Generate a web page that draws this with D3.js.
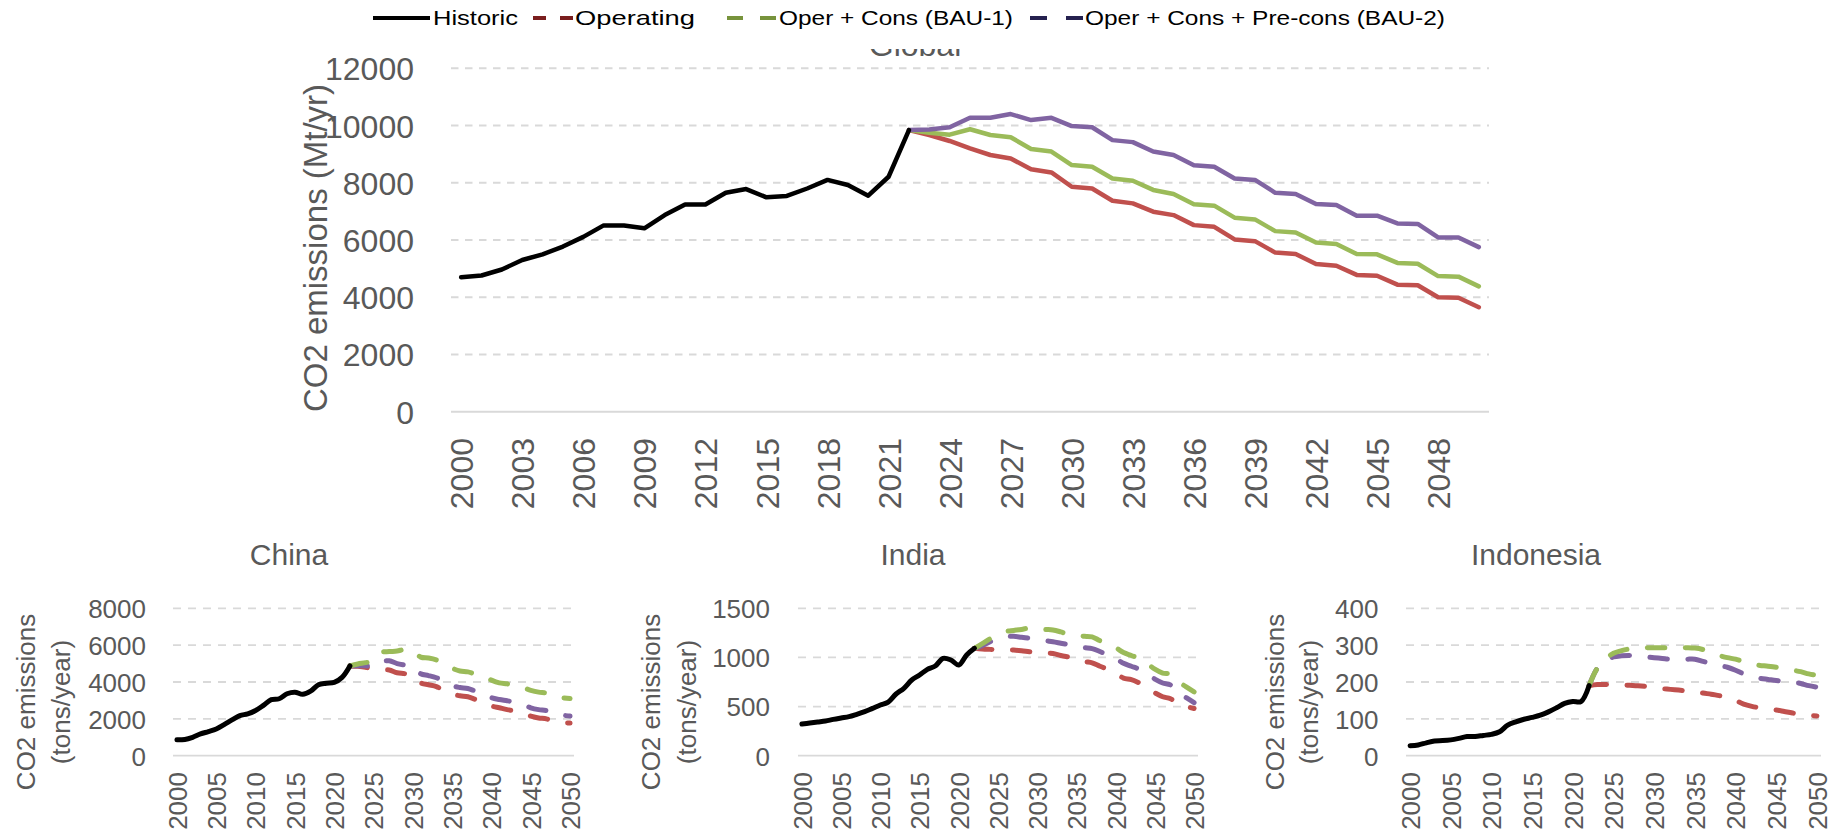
<!DOCTYPE html>
<html><head><meta charset="utf-8">
<script src="https://cdn.jsdelivr.net/npm/d3@7"></script>
<style>
body{margin:0;background:#fff;}
svg{display:block;font-family:"Liberation Sans",Arial,sans-serif;}
</style>
</head><body>
<svg id="chart" width="1835" height="837"></svg>
<script>
// ---------------- DATA ----------------
const years = [2000,2001,2002,2003,2004,2005,2006,2007,2008,2009,2010,2011,2012,2013,2014,2015,2016,2017,2018,2019,2020,2021,2022,2023,2024,2025,2026,2027,2028,2029,2030,2031,2032,2033,2034,2035,2036,2037,2038,2039,2040,2041,2042,2043,2044,2045,2046,2047,2048,2049,2050];
const histYears = [2000,2001,2002,2003,2004,2005,2006,2007,2008,2009,2010,2011,2012,2013,2014,2015,2016,2017,2018,2019,2020,2021,2022];
const projYears = [2022,2023,2024,2025,2026,2027,2028,2029,2030,2031,2032,2033,2034,2035,2036,2037,2038,2039,2040,2041,2042,2043,2044,2045,2046,2047,2048,2049,2050];

const seriesNames = ["Historic","Operating","Oper + Cons (BAU-1)","Oper + Cons + Pre-cons (BAU-2)"];

// Global (Mt/yr)
const globalHistoric = [4700,4760,4970,5300,5500,5770,6110,6510,6510,6410,6870,7240,7240,7650,7780,7490,7540,7800,8100,7920,7550,8210,9840];
const globalOperating = [9840,9670,9460,9200,8970,8850,8470,8360,7860,7800,7370,7280,6990,6870,6520,6460,6020,5960,5560,5510,5160,5100,4780,4750,4440,4420,4000,3980,3650];
const globalBAU1 = [9840,9750,9680,9870,9670,9590,9180,9090,8620,8560,8150,8070,7750,7610,7250,7200,6780,6720,6310,6260,5910,5860,5510,5500,5200,5170,4740,4720,4380];
const globalBAU2 = [9840,9860,9940,10270,10270,10400,10190,10270,9980,9940,9490,9420,9090,8970,8610,8560,8150,8100,7650,7610,7260,7220,6850,6850,6580,6560,6090,6090,5750];

// China
const chinaHistoric = [860,880,1000,1180,1310,1450,1690,1945,2180,2270,2450,2730,3040,3090,3360,3450,3330,3500,3850,3930,3980,4250,4870];
const chinaOperating = [4870,4850,4800,4700,4650,4650,4500,4450,4350,3950,3850,3750,3520,3350,3250,3200,3050,2920,2700,2600,2500,2430,2280,2150,2050,2000,1850,1800,1770];
const chinaBAU1 = [4870,4980,5050,5160,5600,5650,5680,5770,5700,5350,5300,5200,5000,4750,4600,4550,4420,4320,4100,3950,3900,3820,3700,3550,3450,3400,3250,3150,3100];
const chinaBAU2 = [4870,4880,4880,4830,5100,5150,5000,4920,4850,4450,4350,4230,4050,3800,3700,3650,3500,3370,3150,3050,2980,2900,2780,2600,2500,2450,2300,2200,2150];

// India
const indiaHistoric = [322,333,343,353,370,384,397,421,448,482,516,546,628,686,770,821,879,913,991,974,923,1025,1093];
const indiaOperating = [1093,1085,1082,1080,1078,1075,1068,1058,1050,1045,1040,1020,1005,990,960,945,910,880,840,790,775,740,690,640,600,580,525,500,480];
const indiaBAU1 = [1093,1140,1190,1230,1265,1275,1285,1300,1295,1285,1280,1260,1235,1225,1215,1210,1170,1140,1100,1050,1020,990,940,880,840,830,755,700,650];
const indiaBAU2 = [1093,1120,1160,1190,1210,1215,1205,1195,1185,1170,1160,1145,1130,1115,1100,1090,1060,1025,990,940,910,880,830,780,740,720,640,590,540];

// Indonesia
const indonesiaHistoric = [27,29,35,40,41,43,47,52,52,55,58,65,83,92,99,104,110,119,130,142,147,147,190];
const indonesiaOperating = [190,193,193,193,192,191,190,188,185,182,180,178,176,174,170,167,163,160,150,140,134,130,127,124,120,116,111,109,108];
const indonesiaBAU1 = [190,237,262,278,285,290,292,293,293,293,293,293,293,292,288,280,272,266,262,255,248,245,243,240,235,232,228,222,218];
const indonesiaBAU2 = [190,237,258,268,271,272,270,268,266,264,262,262,262,262,256,250,245,240,232,222,214,210,207,204,202,200,196,190,186];

// Ticks
const globalYTicks = [0,2000,4000,6000,8000,10000,12000];
const globalXTicks = [2000,2003,2006,2009,2012,2015,2018,2021,2024,2027,2030,2033,2036,2039,2042,2045,2048];
const chinaYTicks = [0,2000,4000,6000,8000];
const indiaYTicks = [0,500,1000,1500];
const indonesiaYTicks = [0,100,200,300,400];
const smallXTicks = [2000,2005,2010,2015,2020,2025,2030,2035,2040,2045,2050];

// ---------------- STYLE ----------------
const COL = {hist:"#000000", op:"#C0504D", bau1:"#9BBB59", bau2:"#8064A2"};
const LEG = {op:"#7A1E1E", bau1:"#77933C", bau2:"#25214F"};
const TXT = "#595959";

const svg = d3.select("#chart");

function zip(ys, vs){ return ys.map((y,i)=>({year:y, v:vs[i]})); }

function panel(p){
  const x = d3.scalePoint().domain(years).range([p.left, p.right]).padding(0.5);
  const y = d3.scaleLinear().domain([0, p.max]).range([p.bottom, p.top]);
  const g = svg.append("g");

  // gridlines
  g.selectAll("line.grid").data(p.yTicks).join("line")
    .attr("class","grid")
    .attr("x1", p.left).attr("x2", p.right)
    .attr("y1", d=>y(d)).attr("y2", d=>y(d))
    .attr("stroke", "#D9D9D9").attr("stroke-width", p.gridW)
    .attr("stroke-dasharray", d => d===0 ? null : p.gridDash);

  // y axis labels
  const ya = g.append("g").attr("transform", `translate(${p.labelRight},0)`)
    .call(d3.axisLeft(y).tickValues(p.yTicks).tickSize(0).tickPadding(0).tickFormat(d3.format("d")));
  ya.select(".domain").remove();
  ya.selectAll("text").attr("fill", TXT).attr("font-size", p.fs)
    .attr("font-family", '"Liberation Sans",Arial,sans-serif').attr("dy","0.36em");

  // x axis labels
  const xa = g.append("g").attr("transform", `translate(0,${p.xLabelTop})`)
    .call(d3.axisBottom(x).tickValues(p.xTicks).tickSize(0).tickPadding(0));
  xa.select(".domain").remove();
  xa.selectAll("text").attr("fill", TXT).attr("font-size", p.xfs)
    .attr("font-family", '"Liberation Sans",Arial,sans-serif')
    .attr("transform","rotate(-90)").attr("text-anchor","end")
    .attr("x",0).attr("y",0).attr("dy","0.36em");

  // lines
  const line = d3.line().x(d=>x(d.year)).y(d=>y(d.v)).curve(p.curve);
  const proj = [
    {vals:p.op, c:COL.op},
    {vals:p.bau1, c:COL.bau1},
    {vals:p.bau2, c:COL.bau2}
  ];
  const order = p.dashed ? [proj[0], proj[2], proj[1]] : [proj[0], proj[1], proj[2]];
  order.forEach(s=>{
    g.append("path").datum(zip(projYears, s.vals)).attr("d", line)
      .attr("fill","none").attr("stroke", s.c).attr("stroke-width", p.lw)
      .attr("stroke-linecap","round").attr("stroke-linejoin","round")
      .attr("stroke-dasharray", p.dashed ? p.projDash : null);
  });
  g.append("path").datum(zip(histYears, p.hist)).attr("d", line)
    .attr("fill","none").attr("stroke", COL.hist).attr("stroke-width", p.lw)
    .attr("stroke-linecap","round").attr("stroke-linejoin","round");

  // y title
  p.yTitle.forEach(t=>{
    svg.append("text").attr("transform", `translate(${t.x},${p.yTitleCy}) rotate(-90)`)
      .attr("text-anchor","middle").attr("fill", TXT).attr("font-size", p.yTitleFs)
      .text(t.text);
  });
  // title
  svg.append("text").attr("x", p.titleX).attr("y", p.titleY).attr("text-anchor","middle")
    .attr("fill", TXT).attr("font-size", p.titleFs).text(p.title);
}

// Global panel
panel({
  left:451, right:1489, top:68.3, bottom:411.7, max:12000,
  yTicks:globalYTicks, xTicks:globalXTicks, labelRight:414, xLabelTop:438,
  fs:32, xfs:32, gridW:2, gridDash:"7.5,6.5", lw:4.5, curve:d3.curveLinear, dashed:false,
  hist:globalHistoric, op:globalOperating, bau1:globalBAU1, bau2:globalBAU2,
  yTitle:[{x:327, text:"CO2 emissions (Mt/yr)"}], yTitleCy:248, yTitleFs:33,
  title:"Global", titleX:915, titleY:56, titleFs:32
});

const smallCommon = {
  top:608.3, bottom:755.7, xTicks:smallXTicks, xLabelTop:772, fs:26, xfs:26,
  gridW:1.8, gridDash:"8,7", lw:5, curve:d3.curveCatmullRom.alpha(0.5), dashed:true,
  projDash:"17.5,20.5", yTitleCy:702, yTitleFs:26, titleY:565, titleFs:30
};
panel(Object.assign({}, smallCommon, {
  left:173, right:574, max:8000, yTicks:chinaYTicks, labelRight:146,
  hist:chinaHistoric, op:chinaOperating, bau1:chinaBAU1, bau2:chinaBAU2,
  yTitle:[{x:35,text:"CO2 emissions"},{x:70,text:"(tons/year)"}],
  title:"China", titleX:289
}));
panel(Object.assign({}, smallCommon, {
  left:798, right:1198, max:1500, yTicks:indiaYTicks, labelRight:770,
  hist:indiaHistoric, op:indiaOperating, bau1:indiaBAU1, bau2:indiaBAU2,
  yTitle:[{x:660,text:"CO2 emissions"},{x:696,text:"(tons/year)"}],
  title:"India", titleX:913
}));
panel(Object.assign({}, smallCommon, {
  left:1406, right:1821, max:400, yTicks:indonesiaYTicks, labelRight:1378.5,
  hist:indonesiaHistoric, op:indonesiaOperating, bau1:indonesiaBAU1, bau2:indonesiaBAU2,
  yTitle:[{x:1284,text:"CO2 emissions"},{x:1318,text:"(tons/year)"}],
  title:"Indonesia", titleX:1536
}));

// ---------------- LEGEND (covers top of Global title) ----------------
const lg = svg.append("g");
lg.append("rect").attr("x",360).attr("y",0).attr("width",1100).attr("height",49).attr("fill","#fff");
const legendItems = [
  {name:seriesNames[0], color:COL.hist, x1:373, x2:430, dash:null, tx:433, tw:85},
  {name:seriesNames[1], color:LEG.op, x1:533, x2:573, dash:"13,14", tx:575, tw:120},
  {name:seriesNames[2], color:LEG.bau1, x1:727, x2:776, dash:"16,17", tx:779, tw:234},
  {name:seriesNames[3], color:LEG.bau2, x1:1030, x2:1083, dash:"17,19", tx:1085, tw:360}
];
legendItems.forEach(it=>{
  lg.append("line").attr("x1",it.x1).attr("x2",it.x2).attr("y1",18).attr("y2",18)
    .attr("stroke",it.color).attr("stroke-width",4).attr("stroke-dasharray",it.dash);
  lg.append("text").attr("x",it.tx).attr("y",25).attr("font-size",21).attr("fill","#000")
    .attr("textLength",it.tw).attr("lengthAdjust","spacingAndGlyphs").text(it.name);
});
</script>
</body></html>
